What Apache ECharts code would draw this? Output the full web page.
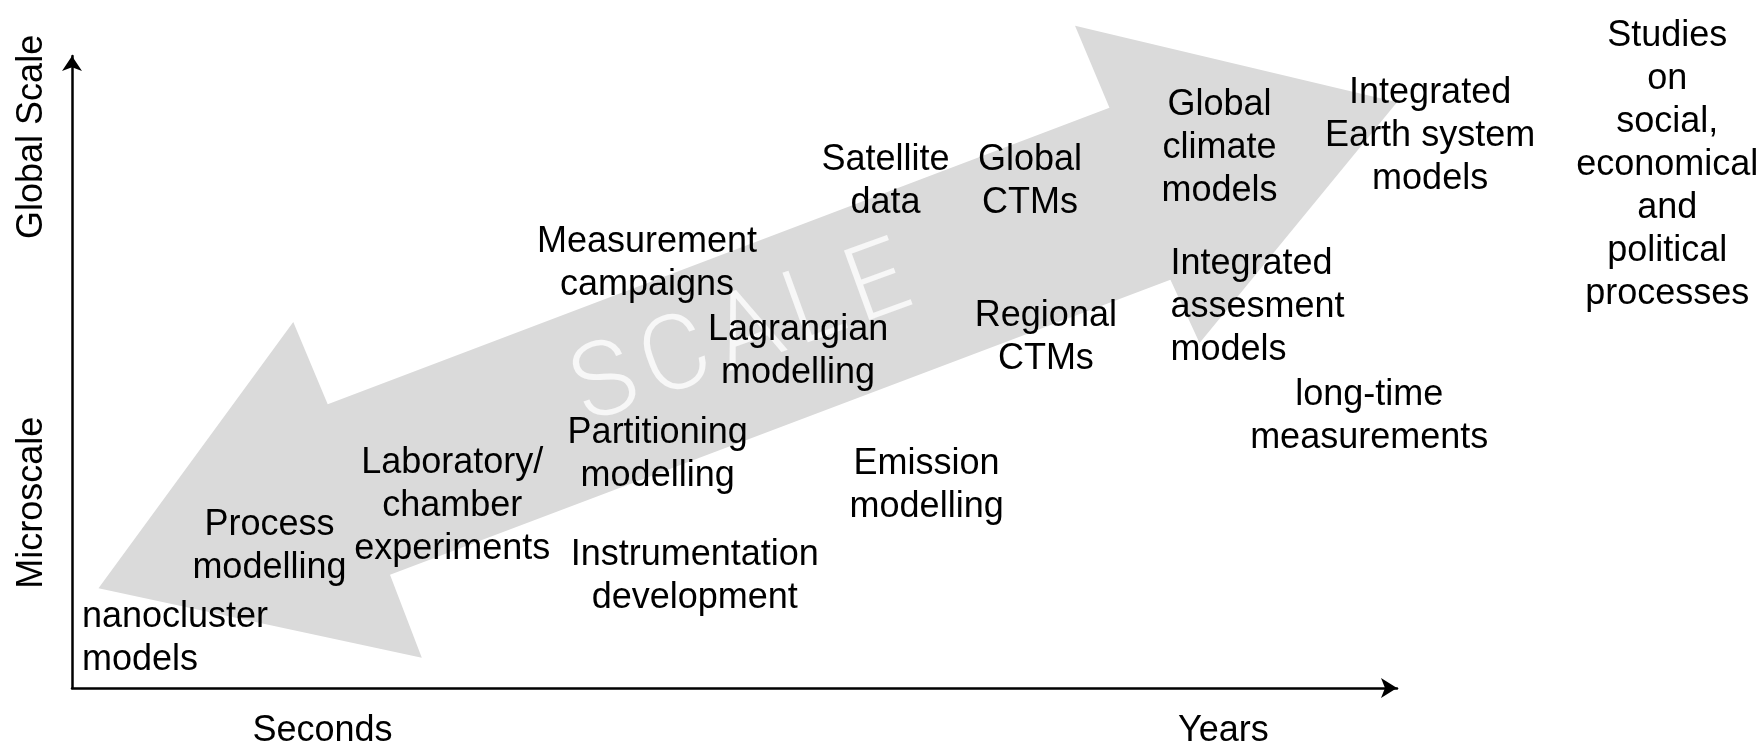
<!DOCTYPE html>
<html>
<head>
<meta charset="utf-8">
<style>
  html, body { margin: 0; padding: 0; background: #fff; }
  #chart { width: 1763px; height: 751px; }
</style>
<script src="https://cdn.jsdelivr.net/npm/echarts@6/dist/echarts.min.js"></script>
</head>
<body>
<div id="chart"></div>
<script>
// axis ticks (only the two end words on each axis)
var xTickValues = [18.9, 86.9];
var xTickLabels = ['Seconds', 'Years'];
var yTickValues = [29.3, 87.2];
var yTickLabels = ['Microscale', 'Global Scale'];

// the big double-headed "SCALE" arrow, vertices in axis units
var arrowX = [2.0, 16.7, 19.3, 78.3, 75.7, 100.0, 85.1, 82.9, 24.0, 26.4];
var arrowY = [15.8, 57.9, 44.9, 91.8, 104.8, 92.7, 54.6, 64.6, 17.9, 4.8];

// research topics placed on the scale plane
var topics = [
  'Satellite\ndata',
  'Global\nCTMs',
  'Global\nclimate\nmodels',
  'Integrated\nEarth system\nmodels',
  'Studies\non\nsocial,\neconomical\nand\npolitical\nprocesses',
  'Measurement\ncampaigns',
  'Lagrangian\nmodelling',
  'Regional\nCTMs',
  'Integrated\nassesment\nmodels',
  'long-time\nmeasurements',
  'Partitioning\nmodelling',
  'Emission\nmodelling',
  'Laboratory/\nchamber\nexperiments',
  'Instrumentation\ndevelopment',
  'Process\nmodelling',
  'nanocluster\nmodels'
];
var topicX = [61.4, 72.3, 86.6, 102.5, 120.4, 43.4, 54.8, 73.5, 82.9, 97.9, 44.2, 64.5, 28.7, 47.0, 14.9, 0.75];
var topicY = [80.2, 80.2, 85.4, 87.3, 82.8, 67.1, 53.2, 55.5, 60.3, 43.0, 37.0, 32.0, 28.8, 17.6, 22.3, 7.8];
var leftAlignedTopics = ['Integrated\nassesment\nmodels', 'nanocluster\nmodels'];

var scaleWord = 'S\u200aC\u200aA\u200aL\u200aE';
var scaleWordPos = [50.6, 55.3];

var font = '"Liberation Sans", Arial, sans-serif';
var ink = '#000000';

var chart = echarts.init(document.getElementById('chart'), null, { renderer: 'canvas' });

chart.setOption({
  animation: false,
  backgroundColor: '#ffffff',
  grid: { left: 72, top: 56, width: 1325, height: 632 },
  xAxis: {
    type: 'value', min: 0, max: 100,
    axisLine: {
      show: true, onZero: false,
      lineStyle: { color: ink, width: 2.5 },
      symbol: ['none', 'arrow'], symbolSize: [15, 16]
    },
    axisTick: { show: false },
    splitLine: { show: false },
    axisLabel: {
      customValues: xTickValues,
      margin: 25,
      color: ink, fontFamily: font, fontSize: 36,
      formatter: function(v) { return xTickLabels[xTickValues.indexOf(v)]; }
    }
  },
  yAxis: {
    type: 'value', min: 0, max: 100,
    axisLine: {
      show: true, onZero: false,
      lineStyle: { color: ink, width: 2.5 },
      symbol: ['none', 'arrow'], symbolSize: [15, 15]
    },
    axisTick: { show: false },
    splitLine: { show: false },
    axisLabel: {
      customValues: yTickValues,
      rotate: 90,
      margin: 22,
      color: ink, fontFamily: font, fontSize: 36,
      formatter: function(v) { return yTickLabels[yTickValues.indexOf(v)]; }
    }
  },
  series: [
    {
      type: 'custom',
      z: 1,
      silent: true,
      data: [0],
      renderItem: function(params, api) {
        var pts = arrowX.map(function(x, i) { return api.coord([x, arrowY[i]]); });
        return {
          type: 'polygon',
          shape: { points: pts },
          style: { fill: '#dadada', stroke: null }
        };
      }
    },
    {
      type: 'scatter',
      z: 2,
      silent: true,
      clip: false,
      symbolSize: 0,
      itemStyle: { opacity: 1 },
      data: [{ value: scaleWordPos, name: scaleWord }],
      label: {
        show: true, position: 'inside',
        formatter: '{b}',
        rotate: 20,
        color: '#f7f7f7',
        fontFamily: 'Roboto, "Liberation Sans", sans-serif',
        fontWeight: 300,
        fontSize: 104
      }
    },
    {
      type: 'scatter',
      z: 3,
      silent: true,
      clip: false,
      symbolSize: 0,
      itemStyle: { opacity: 1 },
      data: topics.map(function(t, i) {
        var left = leftAlignedTopics.indexOf(t) >= 0;
        return {
          name: t,
          value: [topicX[i], topicY[i]],
          label: { align: left ? 'left' : 'center' }
        };
      }),
      label: {
        show: true, position: 'inside',
        formatter: '{b}',
        color: ink,
        fontFamily: font,
        fontSize: 36,
        lineHeight: 43,
        verticalAlign: 'middle'
      }
    }
  ]
});
window.addEventListener('resize', function() { chart.resize(); });
</script>
</body>
</html>
